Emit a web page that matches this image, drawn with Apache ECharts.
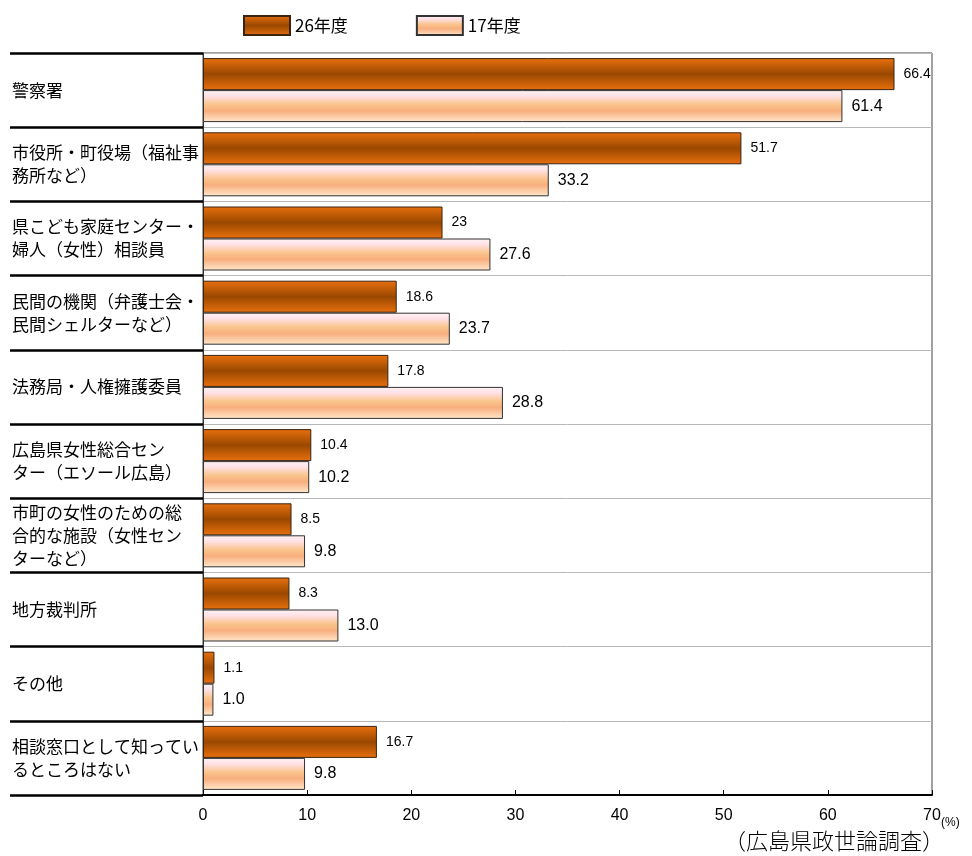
<!DOCTYPE html>
<html>
<head>
<meta charset="utf-8">
<script src="https://cdn.jsdelivr.net/npm/echarts@6/dist/echarts.min.js"></script>
<style>html,body{margin:0;padding:0;background:#fff;}#c{width:972px;height:856px;}</style>
</head>
<body>
<div id="c"></div>
<script>
const categories = [
  '警察署',
  '市役所・町役場（福祉事\n務所など）',
  '県こども家庭センター・\n婦人（女性）相談員',
  '民間の機関（弁護士会・\n民間シェルターなど）',
  '法務局・人権擁護委員',
  '広島県女性総合セン\nター（エソール広島）',
  '市町の女性のための総\n合的な施設（女性セン\nターなど）',
  '地方裁判所',
  'その他',
  '相談窓口として知ってい\nるところはない'
];
const seriesNames = ['26年度', '17年度'];
const values26 = [66.4, 51.7, 23, 18.6, 17.8, 10.4, 8.5, 8.3, 1.1, 16.7];
const values17 = [61.4, 33.2, 27.6, 23.7, 28.8, 10.2, 9.8, 13.0, 1.0, 9.8];
const xTicks = [0, 10, 20, 30, 40, 50, 60, 70];

const darkGrad = new echarts.graphic.LinearGradient(0, 0, 0, 1, [
  {offset: 0, color: '#E8700E'},
  {offset: 0.5, color: '#9A4800'},
  {offset: 1, color: '#E8700E'}
]);
const lightGrad = new echarts.graphic.LinearGradient(0, 0, 0, 1, [
  {offset: 0, color: '#FFF2F2'},
  {offset: 0.18, color: '#FFE2E8'},
  {offset: 0.45, color: '#FAC48C'},
  {offset: 0.65, color: '#F8AE7E'},
  {offset: 1, color: '#FFE8CC'}
]);

const chart = echarts.init(document.getElementById('c'));
chart.setOption({
  backgroundColor: '#fff',
  animation: false,
  legend: {
    left: 238, top: 10, icon: 'rect',
    itemWidth: 46, itemHeight: 19, itemGap: 68,
    textStyle: {fontSize: 17, color: '#000', fontFamily: 'Noto Sans CJK JP'},
    data: seriesNames
  },
  grid: {left: 203, right: 40, top: 53, bottom: 61, show: true, borderColor: '#444', borderWidth: 1},
  xAxis: {
    type: 'value', min: xTicks[0], max: xTicks[xTicks.length - 1], interval: 10,
    axisLine: {show: true, lineStyle: {color: '#000', width: 2}},
    axisTick: {show: true, inside: true, length: 5, lineStyle: {color: '#000'}},
    splitLine: {show: false},
    axisLabel: {fontSize: 16, color: '#000', margin: 13, fontFamily: 'Liberation Sans'}
  },
  yAxis: {
    type: 'category', inverse: true, data: categories,
    axisLine: {show: true, lineStyle: {color: '#333', width: 1}},
    axisTick: {show: true, length: 193, lineStyle: {color: '#000', width: 2.5}},
    splitLine: {show: true, lineStyle: {color: '#b8b8b8', width: 1}},
    axisLabel: {
      align: 'left', margin: 191, fontSize: 17, lineHeight: 23, color: '#000',
      fontFamily: 'Noto Sans CJK JP'
    }
  },
  series: [
    {
      name: seriesNames[0], type: 'bar', data: values26, barWidth: 32, barGap: '0%',
      itemStyle: {color: darkGrad, borderColor: '#3a2410', borderWidth: 1},
      label: {show: true, position: 'right', distance: 9, fontSize: 14, color: '#000', fontFamily: 'Liberation Sans'}
    },
    {
      name: seriesNames[1], type: 'bar', data: values17, barWidth: 32, barGap: '0%',
      itemStyle: {color: lightGrad, borderColor: '#333', borderWidth: 1},
      label: {show: true, position: 'right', distance: 9, fontSize: 16, color: '#000', fontFamily: 'Liberation Sans',
        formatter: p => p.value.toFixed(1)}
    }
  ],
  graphic: [
    {type: 'text', left: 941, top: 817, style: {text: '(%)', fontSize: 12, fill: '#000', fontFamily: 'Liberation Sans'}},
    {type: 'text', right: 28, top: 830, style: {text: '（広島県政世論調査）', fontSize: 22, fill: '#000', fontFamily: 'Noto Sans CJK JP', fontWeight: 300}}
  ]
});
</script>
</body>
</html>
